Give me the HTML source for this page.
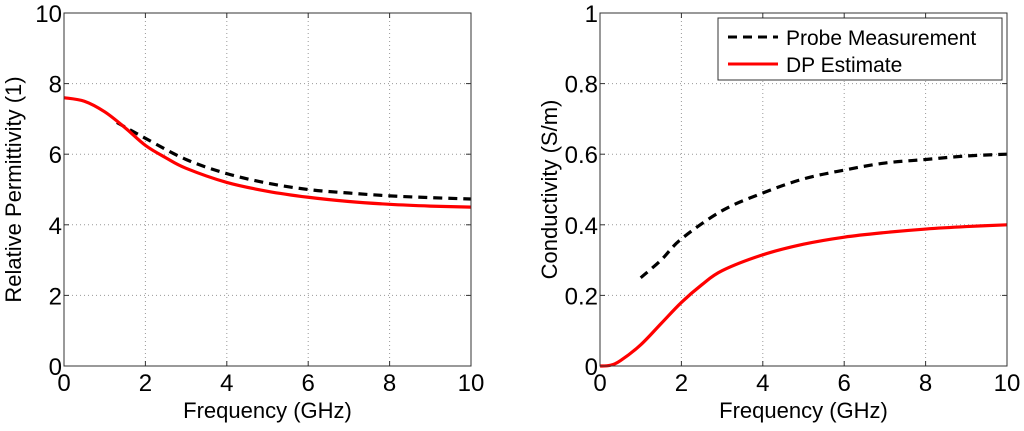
<!DOCTYPE html>
<html><head><meta charset="utf-8"><style>
body{margin:0;background:#fff;}
svg text{font-family:"Liberation Sans",Arial,sans-serif;fill:#000;}
</style></head><body>
<svg id="chart" width="1024" height="426" viewBox="0 0 1024 426" xmlns="http://www.w3.org/2000/svg"></svg>
<script>
const freqL = [0,0.5,1,1.5,2,2.5,3,4,5,6,7,8,9,10];
const epsDP = [7.6,7.5,7.2,6.75,6.25,5.9,5.6,5.2,4.95,4.78,4.66,4.58,4.53,4.5];
const freqProbeL = [1.3,2,3,4,5,6,7,8,9,10];
const epsProbe = [6.9,6.45,5.85,5.45,5.18,5.0,4.9,4.82,4.77,4.73];
const freqR = [0,0.25,0.5,1,1.5,2,2.5,3,4,5,6,7,8,9,10];
const sigDP = [0,0.002,0.015,0.06,0.12,0.18,0.23,0.27,0.315,0.345,0.365,0.378,0.388,0.395,0.4];
const freqProbeR = [1,1.5,2,3,4,5,6,7,8,9,10];
const sigProbe = [0.25,0.3,0.36,0.44,0.49,0.53,0.555,0.575,0.585,0.595,0.6];
const xTicks = [0,2,4,6,8,10];
const yTicksL = [0,2,4,6,8,10];
const yTicksR = [0,0.2,0.4,0.6,0.8,1];
const yTickLabelsR = ['0','0.2','0.4','0.6','0.8','1'];

const NS='http://www.w3.org/2000/svg';
const svg=document.getElementById('chart');
function mk(tag,attrs,parent){const e=document.createElementNS(NS,tag);for(const k in attrs)e.setAttribute(k,attrs[k]);(parent||svg).appendChild(e);return e;}
function smooth(P){
  let d='M'+P[0][0]+','+P[0][1];
  for(let i=0;i<P.length-1;i++){
    const p0=P[Math.max(i-1,0)],p1=P[i],p2=P[i+1],p3=P[Math.min(i+2,P.length-1)];
    const c1=[p1[0]+(p2[0]-p0[0])/6,p1[1]+(p2[1]-p0[1])/6];
    const c2=[p2[0]-(p3[0]-p1[0])/6,p2[1]-(p3[1]-p1[1])/6];
    d+=` C${c1[0]},${c1[1]} ${c2[0]},${c2[1]} ${p2[0]},${p2[1]}`;
  }
  return d;
}
function panel(x0,x1,yMax,yTicks,yLabels,yTitle,series,name){
  const top=13,bot=366;
  const sx=v=>x0+(x1-x0)*v/10;
  const sy=v=>bot-(bot-top)*v/yMax;
  const g=mk('g',{});
  
  
  xTicks.forEach(t=>{
    if(t>0&&t<10){const l=mk('line',{x1:sx(t),x2:sx(t),y1:top,y2:bot,stroke:'#999','stroke-width':1,'stroke-dasharray':'1,3'},g);
    }
    mk('line',{x1:sx(t),x2:sx(t),y1:bot,y2:bot-5,stroke:'#333'},g);
    mk('line',{x1:sx(t),x2:sx(t),y1:top,y2:top+5,stroke:'#333'},g);
    const tx=mk('text',{x:sx(t),y:bot+25,'font-size':24,'text-anchor':'middle'},g);
    tx.textContent=t;
    
  });
  yTicks.forEach((t,i)=>{
    if(t>0&&t<yMax){const l=mk('line',{x1:x0,x2:x1,y1:sy(t),y2:sy(t),stroke:'#999','stroke-width':1,'stroke-dasharray':'1,3'},g);
    }
    mk('line',{x1:x0,x2:x0+5,y1:sy(t),y2:sy(t),stroke:'#333'},g);
    mk('line',{x1:x1,x2:x1-5,y1:sy(t),y2:sy(t),stroke:'#333'},g);
    const tx=mk('text',{x:x0-2,y:sy(t)+9,'font-size':24,'text-anchor':'end'},g);
    tx.textContent=yLabels[i];
    
  });
  series.forEach(s=>{
    const P=s.x.map((v,i)=>[sx(v),sy(s.y[i])]);
    const p=mk('path',{d:smooth(P),fill:'none',stroke:s.color,'stroke-width':3.2,'stroke-dasharray':s.dash||'none'},g);
    
  });
  mk('rect',{x:x0,y:top,width:x1-x0,height:bot-top,fill:'none',stroke:'#333','stroke-width':1},g);
  const xt=mk('text',{x:(x0+x1)/2,y:418,'font-size':22,'text-anchor':'middle'},g);
  xt.textContent='Frequency (GHz)';
  
  const yx=x0-43, yc=(top+bot)/2;
  const yt=mk('text',{x:yx,y:yc,'font-size':22,'text-anchor':'middle',transform:`rotate(-90 ${yx} ${yc})`},g);
  yt.textContent=yTitle;
  
}
panel(64,471,10,yTicksL,yTicksL.map(String),'Relative Permittivity (1)',[
  {x:freqProbeL,y:epsProbe,color:'#000',dash:'9,6',name:'probe-permittivity-line'},
  {x:freqL,y:epsDP,color:'#f00',name:'dp-permittivity-line'}],'permittivity-panel');
panel(600,1007,1,yTicksR,yTickLabelsR,'Conductivity (S/m)',[
  {x:freqProbeR,y:sigProbe,color:'#000',dash:'9,6',name:'probe-conductivity-line'},
  {x:freqR,y:sigDP,color:'#f00',name:'dp-conductivity-line'}],'conductivity-panel');

const lg=mk('g',{});

mk('rect',{x:718,y:18,width:284,height:62,fill:'#fff',stroke:'#333'},lg);
mk('line',{x1:728,x2:778,y1:37,y2:37,stroke:'#000','stroke-width':3,'stroke-dasharray':'9,6'},lg);
mk('line',{x1:728,x2:778,y1:64,y2:64,stroke:'#f00','stroke-width':3},lg);
const l1=mk('text',{x:786,y:45,'font-size':21},lg);l1.textContent='Probe Measurement';

const l2=mk('text',{x:786,y:72,'font-size':21},lg);l2.textContent='DP Estimate';

</script>
</body></html>
